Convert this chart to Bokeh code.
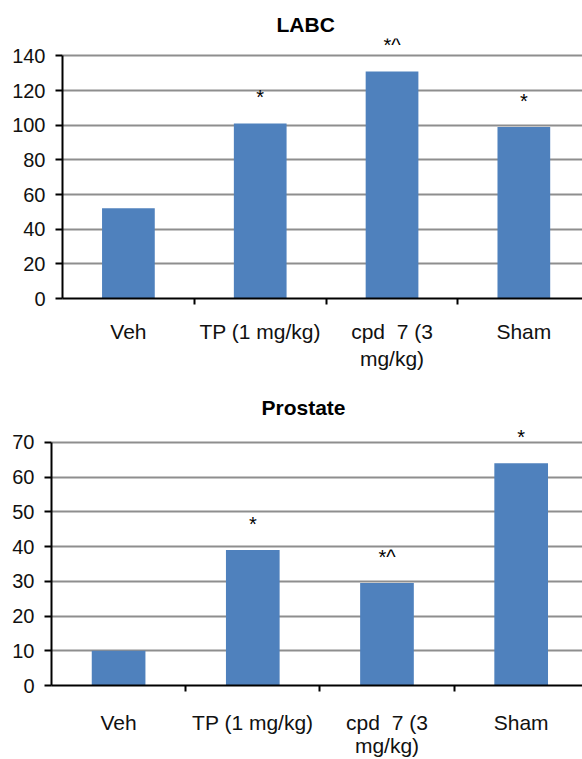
from bokeh.plotting import figure
from bokeh.models import Range1d, LinearAxis, FixedTicker, Grid
from bokeh.embed import file_html
from bokeh.resources import INLINE
from bokeh.core.properties import value

# ---- data ----
categories = ["Veh", "TP (1 mg/kg)", "cpd\u00a0 7 (3\nmg/kg)", "Sham"]

labc_title = "LABC"
labc_values = [52, 101, 131, 99]
labc_marks = ["", "*", "*^", "*"]
labc_ticks = [0, 20, 40, 60, 80, 100, 120, 140]

prostate_title = "Prostate"
prostate_values = [10, 39, 29.5, 64]
prostate_marks = ["", "*", "*^", "*"]
prostate_ticks = [0, 10, 20, 30, 40, 50, 60, 70]

FONT = "Liberation Sans"
BAR = "#4F81BD"
GRID = "#8e8e8e"


def make_chart(title, vals, marks, ticks, y_end, x_end, height, bl, bt, bb,
               title_offset, label_standoff, line_height):
    n = len(categories)
    centers = [i + 0.5 for i in range(n)]
    bounds_ticks = [i for i in range(1, n)]

    p = figure(width=582, height=height,
               x_range=Range1d(0, x_end), y_range=Range1d(0, y_end),
               x_axis_type=None, y_axis_type=None,
               output_backend="svg", toolbar_location=None,
               min_border_left=bl, min_border_right=0,
               min_border_top=bt, min_border_bottom=bb,
               outline_line_color=None,
               background_fill_color="white", border_fill_color="white")

    p.title.text = title
    p.title.text_font = FONT
    p.title.text_font_style = "bold"
    p.title.text_font_size = "21px"
    p.title.text_color = "black"
    p.title.align = "left"
    p.title.offset = title_offset
    p.title.standoff = 5

    yt = FixedTicker(ticks=ticks, minor_ticks=[])
    p.add_layout(Grid(dimension=1, ticker=yt, grid_line_color=GRID,
                      grid_line_width=2))

    yaxis = LinearAxis(ticker=yt, bounds=(0, ticks[-1]),
                       axis_line_width=2, axis_line_color="black",
                       major_tick_line_width=2, major_tick_line_color="black",
                       major_tick_out=7, major_tick_in=0,
                       minor_tick_line_color=None,
                       major_label_text_font=FONT,
                       major_label_text_font_size="20px",
                       major_label_text_color="#111111",
                       major_label_standoff=10)
    p.add_layout(yaxis, "left")

    xt = FixedTicker(ticks=centers, minor_ticks=bounds_ticks)
    xaxis = LinearAxis(ticker=xt,
                       major_label_overrides=dict(zip(centers, categories)),
                       axis_line_width=2, axis_line_color="black",
                       major_tick_line_color=None,
                       major_tick_out=0, major_tick_in=0,
                       minor_tick_line_color="black", minor_tick_line_width=2,
                       minor_tick_out=6, minor_tick_in=0,
                       major_label_text_font=FONT,
                       major_label_text_font_size="21px",
                       major_label_text_line_height=line_height,
                       major_label_text_color="#111111",
                       major_label_standoff=label_standoff)
    p.add_layout(xaxis, "below")

    p.vbar(x=centers, top=vals, bottom=0, width=0.4,
           fill_color=BAR, line_color=None)

    p.text(x=centers, y=vals, text=marks, text_align="center",
           text_baseline="alphabetic", y_offset=-26,
           text_font=value(FONT), text_font_size="20px", text_color="black")
    return p


p1 = make_chart(labc_title, labc_values, labc_marks, labc_ticks,
                y_end=150, x_end=3.945, height=385, bl=62, bt=38, bb=87,
                title_offset=214, label_standoff=15, line_height=1.2)
p2 = make_chart(prostate_title, prostate_values, prostate_marks, prostate_ticks,
                y_end=76, x_end=3.957, height=374, bl=51, bt=36, bb=74,
                title_offset=210, label_standoff=19, line_height=1.0)

open("out.html", "w").write(file_html([p1, p2], INLINE))
